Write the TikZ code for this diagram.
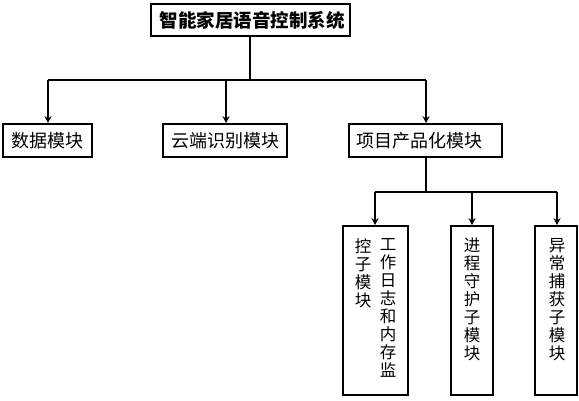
\documentclass[tikz,border=0pt]{standalone}
\usepackage{fontspec}
\newfontfamily\cjk{Noto Sans CJK SC}
\usetikzlibrary{arrows.meta}
\begin{document}
\begin{tikzpicture}[x=1pt,y=-1pt,
  box/.style={draw, line width=1.6pt, inner sep=0pt},
  lbl/.style={font=\cjk\fontsize{18}{19}\selectfont, inner sep=0pt},
  vlbl/.style={font=\cjk\fontsize{16.5}{18}\selectfont, inner sep=0pt, align=center, anchor=north},
  conn/.style={line width=1.6pt},
  arr/.style={line width=1.6pt, -{Stealth[length=7pt,width=7pt]}}]
\useasboundingbox (0,0) rectangle (579,400);
% top
\node[box, minimum width=199pt, minimum height=32pt] (top) at (250.5,20) {};
\node[lbl, font=\cjk\bfseries\fontsize{18.5}{20}\selectfont] (toptext) at (252,20) {智能家居语音控制系统};
% level 2
\node[box, minimum width=89pt, minimum height=33pt] (data) at (47.5,140.5) {};
\node[lbl] (datat) at (47.5,140.5) {数据模块};
\node[box, minimum width=124pt, minimum height=33pt] (cloud) at (225,140.5) {};
\node[lbl] (cloudt) at (225.5,140.5) {云端识别模块};
\node[box, minimum width=153pt, minimum height=33pt] (proj) at (425.5,140.5) {};
\node[lbl] (projt) at (419,140.5) {项目产品化模块};
% connectors level 1
\coordinate (j1) at (250,80);
\coordinate (l1) at (48,80);
\coordinate (r1) at (426,80);
\coordinate (m1) at (226,80);
\draw[conn] (top.south -| j1) -- (j1);
\draw[conn] (l1) -- (r1);
\draw[arr] (l1) -- (l1 |- data.north);
\draw[arr] (m1) -- (m1 |- cloud.north);
\draw[arr] (r1) -- (r1 |- proj.north);
% level 3
\node[box, minimum width=65pt, minimum height=169pt] (log) at (375.5,310.5) {};
\node[box, minimum width=42pt, minimum height=169pt] (proc) at (472,310.5) {};
\node[box, minimum width=42pt, minimum height=169pt] (exc) at (556,310.5) {};
\node[vlbl] (logr) at (388,238) {工\\作\\日\\志\\和\\内\\存\\监};
\node[vlbl] (logl) at (363,238) {控\\子\\模\\块};
\node[vlbl] (proct) at (472,238) {进\\程\\守\\护\\子\\模\\块};
\node[vlbl] (exct) at (557,238) {异\\常\\捕\\获\\子\\模\\块};
\coordinate (j2) at (426,192);
\coordinate (l2) at (375,192);
\coordinate (m2) at (472,192);
\coordinate (r2) at (557,192);
\draw[conn] (proj.south -| j2) -- (j2);
\draw[conn] (l2) -- (r2);
\draw[arr] (l2) -- (l2 |- log.north);
\draw[arr] (m2) -- (m2 |- proc.north);
\draw[arr] (r2) -- (r2 |- exc.north);
\end{tikzpicture}
\end{document}
